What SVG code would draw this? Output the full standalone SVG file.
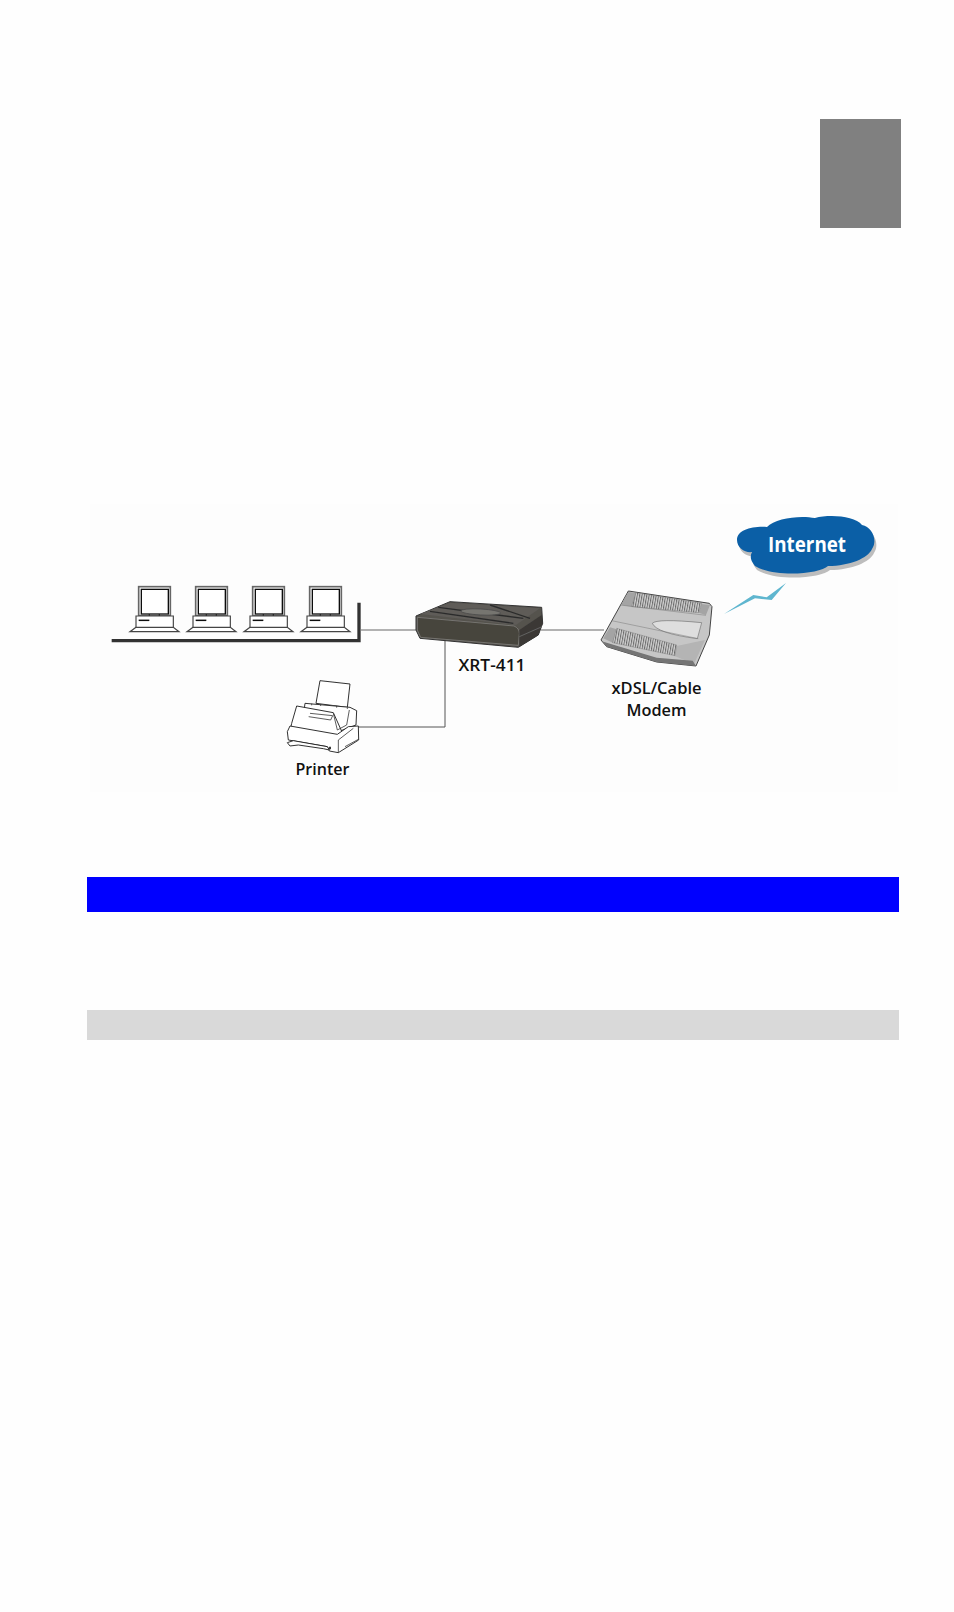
<svg xmlns="http://www.w3.org/2000/svg" xmlns:xlink="http://www.w3.org/1999/xlink" width="954" height="1612" viewBox="0 0 954 1612">
<defs>
<style>
.lbl{font-family:"Open Sans","Noto Sans","DejaVu Sans",sans-serif;font-weight:600;font-size:17px;fill:#111;text-anchor:middle}
.net{font-family:"Open Sans","Noto Sans","DejaVu Sans",sans-serif;font-weight:700;font-size:21px;fill:#fff;text-anchor:middle}
.grey{stroke:#999;stroke-width:1.6;fill:none}
.thin{stroke:#555;stroke-width:1;fill:none}
.p{fill:#fff;stroke:#222;stroke-width:2.8;stroke-linejoin:round}
.pl{fill:none;stroke:#333;stroke-width:2.4}
</style>
<filter id="soft" x="-5%" y="-5%" width="110%" height="110%"><feGaussianBlur stdDeviation="0.9"/></filter>
<pattern id="vent" width="7" height="40" patternUnits="userSpaceOnUse" patternTransform="rotate(10)">
<rect width="7" height="40" fill="#d0d0d0"/><rect width="3" height="40" fill="#6a6a6a"/>
</pattern>
<g id="pc">
<rect x="146" y="110" width="95" height="87" fill="#fff" stroke="#666" stroke-width="5"/>
<rect x="154" y="118" width="81" height="74" fill="#fff" stroke="#111" stroke-width="4"/>
<path d="M178 192v6M208 192v6" stroke="#222" stroke-width="3.5"/>
<path d="M138 232V198H250V232" fill="#fff" stroke="#444" stroke-width="3.5"/>
<path d="M146 211H178" stroke="#111" stroke-width="4.5"/>
<path d="M138 232L120 245H267L250 232Z" fill="#fff" stroke="#444" stroke-width="3.5"/>
</g>
</defs>
<rect width="954" height="1612" fill="#fefefe"/>
<rect x="90" y="504" width="808" height="288" fill="#fdfdfd"/>
<rect id="tab" x="820" y="119" width="81" height="109" fill="#808080"/>
<rect id="band-blue" x="87" y="877" width="812" height="35" fill="#0000ff"/>
<rect id="band-grey" x="87" y="1010" width="812" height="30" fill="#d9d9d9"/>
<g id="connectors">
<path class="grey" d="M361 630H417"/>
<path class="grey" d="M541 630H604"/>
<path class="thin" d="M445 640V727H358"/>
</g>
<g id="computers" transform="translate(90 550) scale(.33333)" filter="url(#soft)">
<use xlink:href="#pc" href="#pc"/>
<use xlink:href="#pc" href="#pc" x="171"/>
<use xlink:href="#pc" href="#pc" x="342"/>
<use xlink:href="#pc" href="#pc" x="513"/>
<path d="M65 272H807V158" fill="none" stroke="#333" stroke-width="10"/>
</g>
<g id="printer" transform="translate(90 550) scale(.33333)" filter="url(#soft)">
<path class="p" d="M690 392L780 402L772 472L678 460Z"/>
<path class="p" d="M645 460L780 472L800 482L798 525L745 545L640 500Z"/>
<path class="p" d="M620 468L730 488L756 546L742 572L600 545L605 520Z"/>
<path class="pl" d="M660 490L728 497L722 510L656 500M730 490L742 540L770 525L778 480M665 461v5M692 463v5M740 468v5M772 472v5"/>
<path class="p" d="M592 545L600 528L742 553L775 530L805 528L806 570L745 608L718 603L712 590L595 570Z"/>
<path class="pl" d="M745 570L745 608M745 570L790 535M765 590L805 568"/>
<path class="p" d="M592 578L610 572L712 590L718 600L700 596L625 585L600 588Z"/>
<path d="M720 590v8" stroke="#111" stroke-width="5"/>
</g>
<g id="router" transform="translate(390 490) scale(.33333)" filter="url(#soft)">
<path d="M78 378L180 335L455 352L458 400L445 435L385 472L90 445L78 420Z" fill="#55524d" stroke="#333" stroke-width="3" stroke-linejoin="round"/>
<path d="M90 372L180 338L450 355L378 405Z" fill="#5e5c58"/>
<path d="M120 364L370 400M145 352L400 385M300 345L420 385" stroke="#2c2c2c" stroke-width="4" fill="none"/>
<ellipse cx="272" cy="366" rx="60" ry="9" fill="#767470" stroke="#444" stroke-width="2" transform="rotate(3 272 366)"/>
<path d="M82 382L372 408Q388 415 388 430L385 466L92 442L82 420Z" fill="#47443d" stroke="#8a8a86" stroke-width="2"/>
<path d="M388 420L455 375L458 400L445 435L388 470Z" fill="#3a3936"/>
<path d="M388 440L456 410" stroke="#777" stroke-width="2"/>
</g>
<g id="modem" transform="translate(390 490) scale(.33333)" filter="url(#soft)">
<path d="M715 303L958 340L966 350L958 435L918 528L800 516L650 470L633 450L650 420Z" fill="#c6c6c6" stroke="#444" stroke-width="3" stroke-linejoin="round"/>
<path d="M715 306L740 310L725 350L693 345Z M935 342L960 345L948 375L925 368Z M660 412L680 418L668 458L640 445Z" fill="#a4a4a4"/>
<path d="M860 468L945 450L912 522L852 497Z" fill="#b4b4b4"/>
<path d="M738 308L935 340L925 368L725 350Z" fill="url(#vent)" stroke="#666" stroke-width="1"/>
<path d="M680 415L860 465L855 497L668 458Z" fill="url(#vent)" stroke="#666" stroke-width="1"/>
<path d="M787 400Q800 385 935 398L922 446Q800 430 787 400Z" fill="#dedede" stroke="#555" stroke-width="1.5"/>
<path d="M690 345L948 376M665 392L925 446" stroke="#777" stroke-width="1.5" fill="none"/>
<path d="M634 452L650 470L800 516L918 528L908 512L800 503L640 455Z" fill="#747474"/>
</g>
<g id="cloud">
<path d="M737 540C737 530 752 526 767 527C775 518 800 515 815 518C830 514 855 516 862 525C872 527 878 540 872 549C868 558 850 566 828 566C820 574 775 578 755 566C750 560 750 556 752 552C745 553 737 548 737 540Z" fill="#bdbdbd" transform="translate(2 4)"/>
<path d="M737 540C737 530 752 526 767 527C775 518 800 515 815 518C830 514 855 516 862 525C872 527 878 540 872 549C868 558 850 566 828 566C820 574 775 578 755 566C750 560 750 556 752 552C745 553 737 548 737 540Z" fill="#0b5fa6"/>
<text class="net" x="807" y="552" textLength="78" lengthAdjust="spacingAndGlyphs">Internet</text>
</g>
<path id="bolt" d="M724 614L753.3 595L766.7 597.3L786 583L771.7 600L755 598.3Z" fill="#5fb6cf"/>
<g id="labels">
<text class="lbl" x="492" y="671" textLength="67" lengthAdjust="spacingAndGlyphs">XRT-411</text>
<text class="lbl" x="656.5" y="694" textLength="90" lengthAdjust="spacingAndGlyphs">xDSL/Cable</text>
<text class="lbl" x="656.5" y="716" textLength="60" lengthAdjust="spacingAndGlyphs">Modem</text>
<text class="lbl" x="322.5" y="775" textLength="54" lengthAdjust="spacingAndGlyphs">Printer</text>
</g>
</svg>
